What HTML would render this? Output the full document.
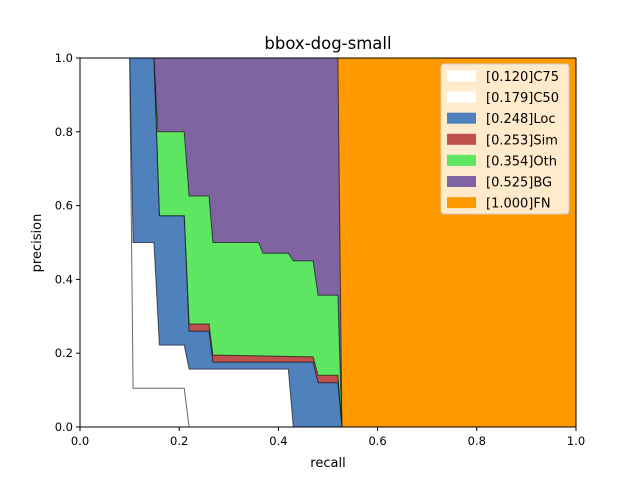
<!DOCTYPE html>
<html><head><meta charset="utf-8"><style>
body{margin:0;background:#fff;}
svg text{font-family:"DejaVu Sans","Liberation Sans",sans-serif;fill:#000;}
</style></head><body>
<svg id="chart" width="640" height="480" xmlns="http://www.w3.org/2000/svg">
<rect width="640" height="480" fill="#fff"/>
<text x="328" y="49" font-size="16.5" text-anchor="middle">bbox-dog-small</text>
<g id="plot"></g>
<g id="axes"></g>
<g id="legend"></g>
<text x="328" y="467" font-size="13" text-anchor="middle">recall</text>
<text x="41" y="243" font-size="13" text-anchor="middle" transform="rotate(-90 41 243)">precision</text>
</svg>
<script>
const seriesNames = ["C75","C50","Loc","Sim","Oth","BG","FN"];
const seriesAP = ["0.120","0.179","0.248","0.253","0.354","0.525","1.000"];
const seriesColors = ["#ffffff","#ffffff","#4f81bd","#c0504d","#5ee662","#8064a2","#ff9900"];
const recallC75 = [0, 0.10, 0.107, 0.21, 0.22];
const precC75 = [1, 1, 0.105, 0.105, 0];
const recallC50 = [0, 0.10, 0.107, 0.149, 0.16, 0.21, 0.22, 0.42, 0.43];
const precC50 = [1, 1, 0.5, 0.5, 0.222, 0.222, 0.157, 0.157, 0];
const recallLoc = [0, 0.149, 0.16, 0.21, 0.22, 0.26, 0.268, 0.47, 0.48, 0.52, 0.528];
const precLoc = [1, 1, 0.572, 0.572, 0.26, 0.26, 0.176, 0.176, 0.12, 0.12, 0];
const recallSim = [0, 0.149, 0.16, 0.21, 0.22, 0.26, 0.268, 0.47, 0.48, 0.52, 0.528];
const precSim = [1, 1, 0.572, 0.572, 0.279, 0.279, 0.195, 0.19, 0.14, 0.14, 0];
const recallOth = [0, 0.149, 0.157, 0.21, 0.22, 0.26, 0.268, 0.36, 0.369, 0.42, 0.43, 0.47, 0.48, 0.52, 0.528];
const precOth = [1, 1, 0.80, 0.80, 0.626, 0.626, 0.5, 0.5, 0.471, 0.471, 0.45, 0.45, 0.357, 0.357, 0];
const recallBG = [0, 0.52, 0.528];
const precBG = [1, 1, 0];
const recallFN = [0, 1, 1];
const precFN = [1, 1, 0];
const xTicks = ["0.0","0.2","0.4","0.6","0.8","1.0"];
const yTicks = ["0.0","0.2","0.4","0.6","0.8","1.0"];

const NS="http://www.w3.org/2000/svg";
const X0=80,X1=576,Y0=427,Y1=58;
function xs(v){return X0+v*(X1-X0);}
function ys(v){return Y0-v*(Y0-Y1);}
const plot=document.getElementById('plot');
const curves=[[recallC75,precC75],[recallC50,precC50],[recallLoc,precLoc],[recallSim,precSim],[recallOth,precOth],[recallBG,precBG],[recallFN,precFN]];
for(let i=curves.length-1;i>=0;i--){
  const [r,p]=curves[i];
  let d="M"+xs(0)+","+ys(0);
  for(let k=0;k<r.length;k++) d+=" L"+xs(r[k]).toFixed(1)+","+ys(p[k]).toFixed(1);
  d+=" Z";
  const path=document.createElementNS(NS,'path');
  path.setAttribute('d',d);
  path.setAttribute('fill',seriesColors[i]);
  path.setAttribute('stroke','#000');
  path.setAttribute('stroke-opacity','0.6');
  path.setAttribute('stroke-width','1');
  
  
  plot.appendChild(path);
}
const axes=document.getElementById('axes');
const frame=document.createElementNS(NS,'rect');
frame.setAttribute('x',X0);frame.setAttribute('y',Y1);frame.setAttribute('width',X1-X0);frame.setAttribute('height',Y0-Y1);
frame.setAttribute('fill','none');frame.setAttribute('stroke','#000');frame.setAttribute('stroke-width','1');


axes.appendChild(frame);
xTicks.forEach((t)=>{
  const v=parseFloat(t),x=xs(v);
  const l=document.createElementNS(NS,'line');
  l.setAttribute('x1',x);l.setAttribute('x2',x);l.setAttribute('y1',Y0);l.setAttribute('y2',Y0+4);l.setAttribute('stroke','#000');
  
  
  axes.appendChild(l);
  const tx=document.createElementNS(NS,'text');
  tx.setAttribute('x',x);tx.setAttribute('y',Y0+18);tx.setAttribute('font-size','11.5');tx.setAttribute('text-anchor','middle');
  tx.textContent=t;
  
  
  axes.appendChild(tx);
});
yTicks.forEach((t)=>{
  const v=parseFloat(t),y=ys(v);
  const l=document.createElementNS(NS,'line');
  l.setAttribute('x1',X0-4);l.setAttribute('x2',X0);l.setAttribute('y1',y);l.setAttribute('y2',y);l.setAttribute('stroke','#000');
  
  
  axes.appendChild(l);
  const tx=document.createElementNS(NS,'text');
  tx.setAttribute('x',X0-7);tx.setAttribute('y',y+4);tx.setAttribute('font-size','11.5');tx.setAttribute('text-anchor','end');
  tx.textContent=t;
  
  
  axes.appendChild(tx);
});
const leg=document.getElementById('legend');
const box=document.createElementNS(NS,'rect');
box.setAttribute('x',441);box.setAttribute('y',64);box.setAttribute('width',128);box.setAttribute('height',150);box.setAttribute('rx',3);
box.setAttribute('fill','#ffffff');box.setAttribute('fill-opacity','0.8');box.setAttribute('stroke','#cccccc');


leg.appendChild(box);
seriesNames.forEach((n,i)=>{
  const cy=76+i*21.1;
  const r=document.createElementNS(NS,'rect');
  r.setAttribute('x',447);r.setAttribute('y',cy-5.5);r.setAttribute('width',29);r.setAttribute('height',11);
  r.setAttribute('fill',seriesColors[i]);
  
  
  leg.appendChild(r);
  const tx=document.createElementNS(NS,'text');
  tx.setAttribute('x',486);tx.setAttribute('y',cy+5);tx.setAttribute('font-size','13');
  tx.textContent='['+seriesAP[i]+']'+n;
  
  
  leg.appendChild(tx);
});
</script>
</body></html>
